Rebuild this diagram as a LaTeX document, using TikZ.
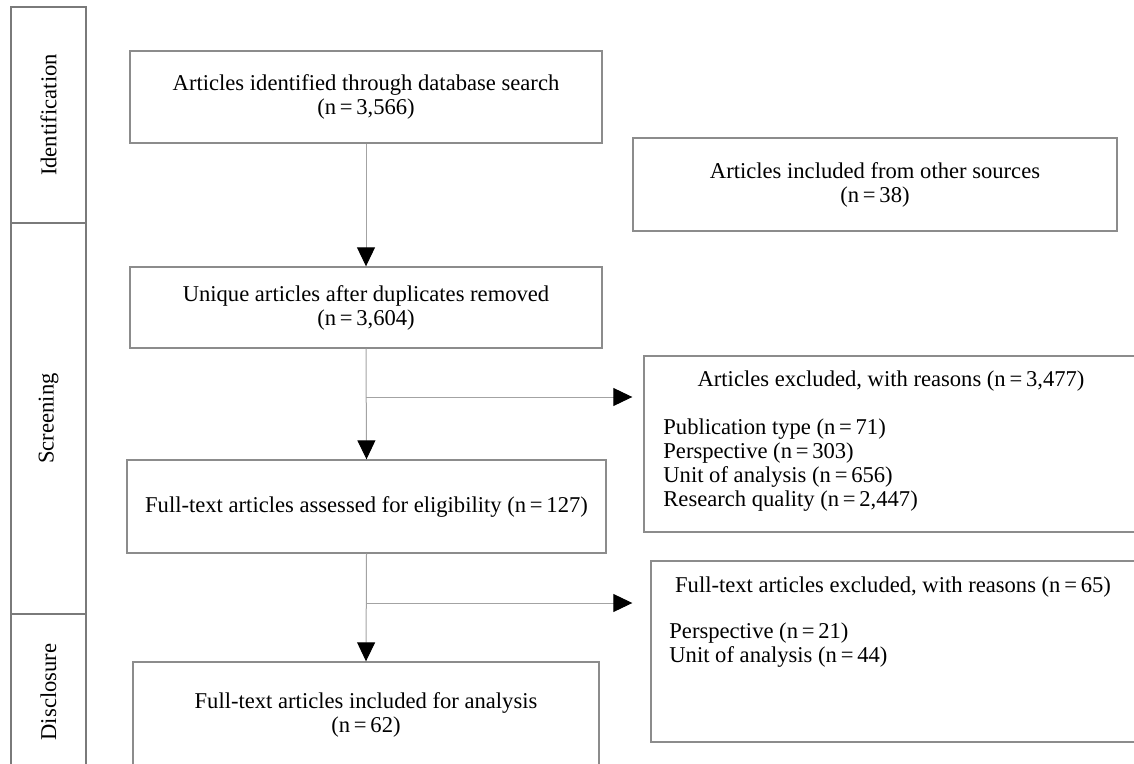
\documentclass[tikz,border=0pt]{standalone}
\usepackage{fontspec}
\setmainfont{Liberation Serif}
\usepackage{tikz}
\usetikzlibrary{arrows.meta,positioning,calc}
\definecolor{cB}{HTML}{8c8c8c}
\definecolor{cS}{HTML}{7a7a7a}
\definecolor{cL}{HTML}{a3a3a3}

\begin{document}
\begin{tikzpicture}[x=0.5pt,y=-0.5pt,
  font=\fontsize{11.3}{12}\selectfont,
  box/.style={draw=cB,line width=0.7pt,inner sep=0pt,align=center},
  stage/.style={draw=cS,line width=0.7pt,inner sep=0pt,rotate=90,minimum height=37.5pt},
  link/.style={draw=cL,line width=0.5pt,-{Triangle[length=9.5pt,width=9pt,color=black]}}]
  \clip (0,0) rectangle (1134,764);
  % stages
  \node[stage,minimum width=108pt] (sId) at (48.5,115) {Identification};
  \node[stage,minimum width=195.5pt] (sScr) at (48.5,418.5) {Screening};
  \node[stage,minimum width=78pt] (sDis) at (48.5,692) {Disclosure};
  % main flow
  \node[box,minimum width=236pt,minimum height=46pt] (ident) at (366,97)
    {Articles identified through database search\\(n\,=\,3,566)};
  \node[box,minimum width=242pt,minimum height=46.5pt] (other) at (875,184.5)
    {Articles included from other sources\\(n\,=\,38)};
  \node[box,minimum width=236pt,minimum height=40.5pt] (uniq) at (366,307.5)
    {Unique articles after duplicates removed\\(n\,=\,3,604)};
  \node[box,minimum width=239.5pt,minimum height=46.5pt] (full) at (366.5,506.5)
    {Full-text articles assessed for eligibility (n\,=\,127)};
  \node[box,minimum width=233pt,minimum height=52.5pt] (incl) at (366,714.5)
    {Full-text articles included for analysis\\(n\,=\,62)};
  % exclusions
  \node[box,minimum width=248pt,minimum height=88pt] (exA) at (892,444) {};
  \node (exAhead) at (891,381) {Articles excluded, with reasons (n\,=\,3,477)};
  \node[anchor=west,inner sep=0pt,align=left] (exAlist) at (663,465.5)
    {Publication type (n\,=\,71)\\Perspective (n\,=\,303)\\Unit of analysis (n\,=\,656)\\Research quality (n\,=\,2,447)};
  \node[box,minimum width=244.5pt,minimum height=90.5pt] (exB) at (895.5,651.5) {};
  \node (exBhead) at (893,587) {Full-text articles excluded, with reasons (n\,=\,65)};
  \node[anchor=west,inner sep=0pt,align=left] (exBlist) at (669,645)
    {Perspective (n\,=\,21)\\Unit of analysis (n\,=\,44)};
  % connectors
  \coordinate (brA) at (366,397);
  \coordinate (brB) at (366,603);
  \draw[link] (ident.south) -- (uniq.north);
  \draw[link] (uniq.south) -- (full.north);
  \draw[link] (full.south) -- (incl.north);
  \draw[link,shorten >=5.5pt] (brA) -- (brA -| exA.west);
  \draw[link,shorten >=9pt] (brB) -- (brB -| exB.west);
\end{tikzpicture}
\end{document}
